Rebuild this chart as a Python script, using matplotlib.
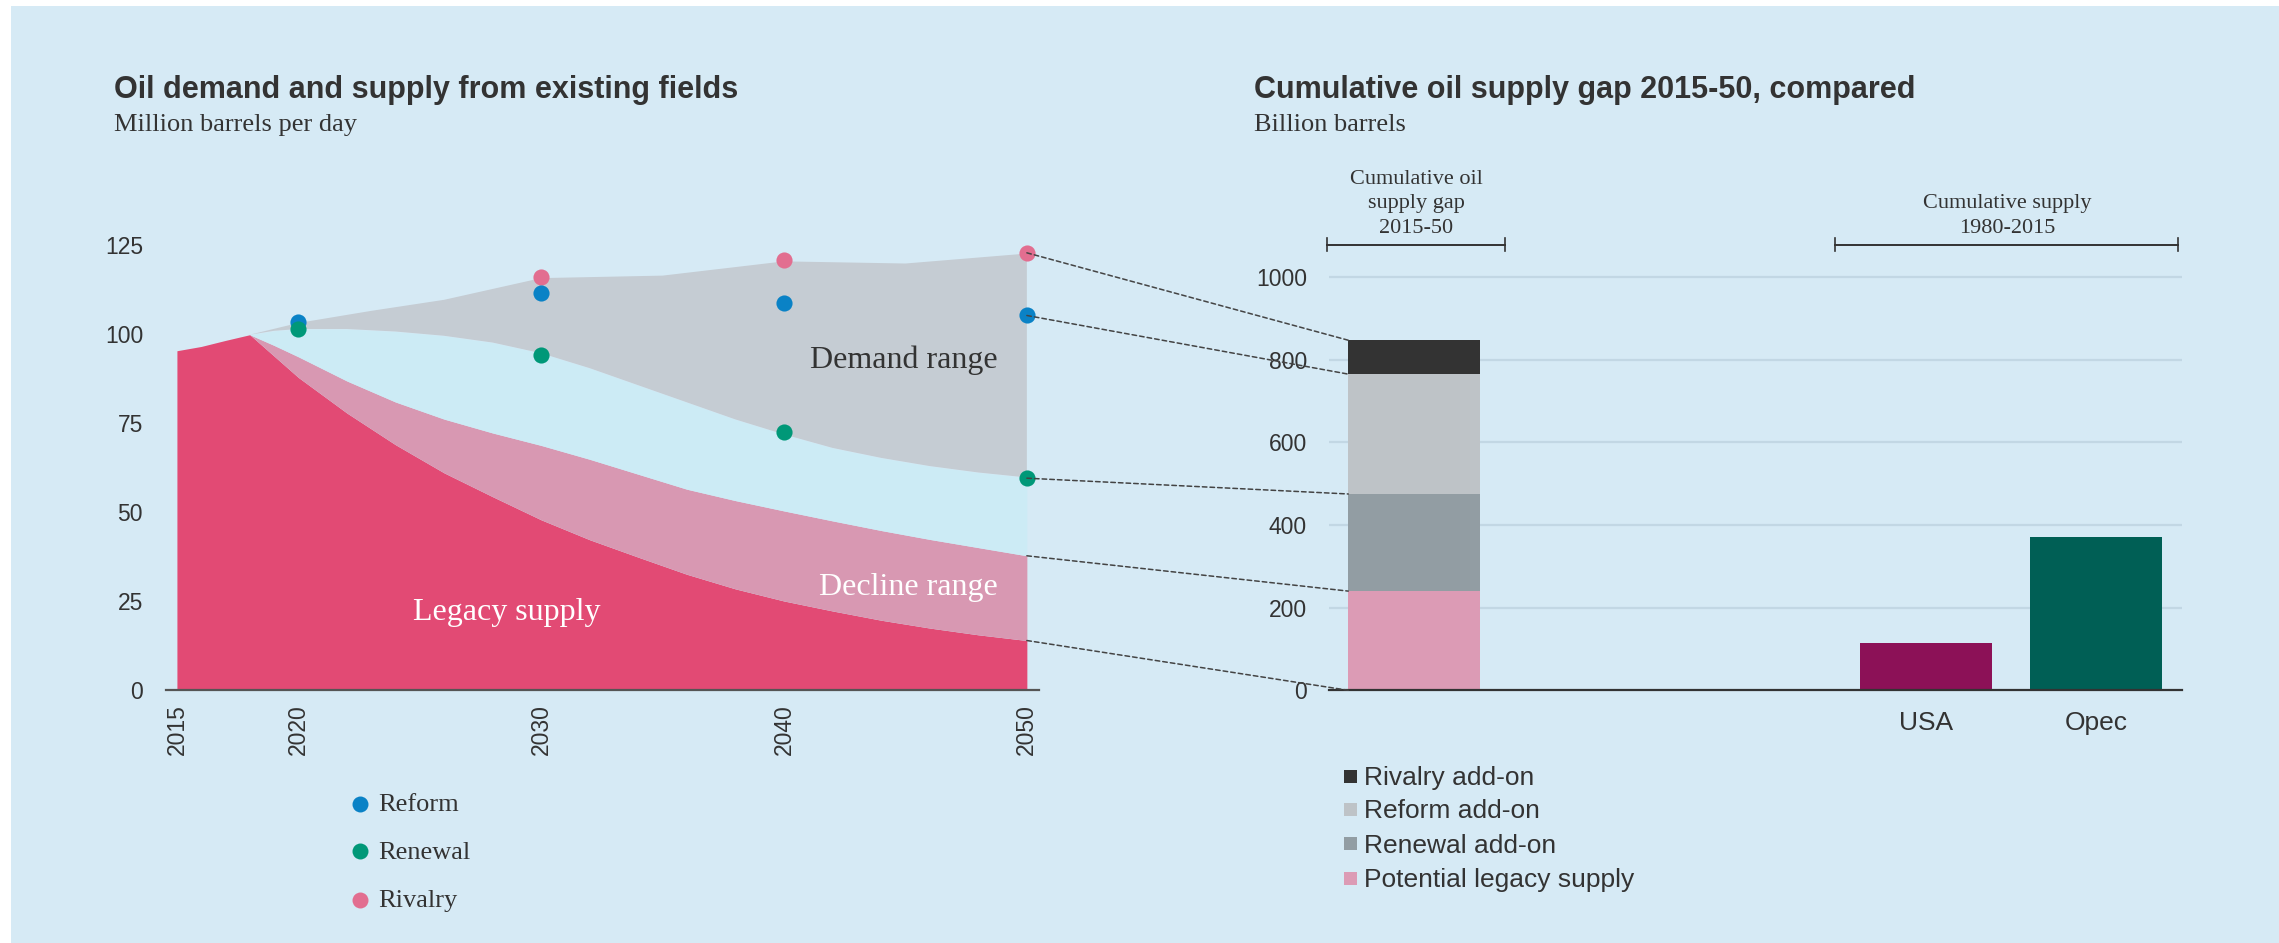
import numpy as np
import matplotlib
matplotlib.use("Agg")
import matplotlib.pyplot as plt
from matplotlib.patches import Rectangle, ConnectionPatch
from matplotlib.lines import Line2D

# ---------------- data ----------------
years = [2015, 2016, 2017, 2018, 2019, 2020, 2022, 2024, 2026, 2028, 2030,
         2032, 2034, 2036, 2038, 2040, 2042, 2044, 2046, 2048, 2050]
legacy_supply = [95.3, 96.5, 98.2, 99.8, 93.8, 87.8, 77.8, 68.9, 61.0, 54.3, 47.8,
                 42.2, 37.3, 32.5, 28.4, 25.0, 22.2, 19.6, 17.4, 15.5, 13.9]
# from 2018 onward
decline_top = [99.8, 96.8, 93.6, 86.8, 80.9, 76.1, 72.2, 68.7,
               64.8, 60.6, 56.4, 53.2, 50.3, 47.5, 44.8, 42.3, 40.0, 37.7]
demand_low = [99.8, 100.9, 101.4, 101.4, 100.7, 99.5, 97.6, 94.6,
              90.4, 85.6, 80.8, 76.0, 71.8, 68.0, 65.2, 62.9, 61.1, 59.7]
high_years = [2018, 2020, 2023, 2026, 2030, 2035, 2040, 2045, 2050]
demand_high = [99.8, 103.1, 106.5, 109.6, 115.7, 116.4, 120.4, 119.8, 122.6]

dot_years = [2020, 2030, 2040, 2050]
reform = [103.4, 111.5, 108.6, 105.2]
renewal = [101.5, 94.2, 72.5, 59.5]
rivalry_years = [2030, 2040, 2050]
rivalry = [116.0, 120.7, 122.8]

left_xticks = [2015, 2020, 2030, 2040, 2050]
left_yticks = [0, 25, 50, 75, 100, 125]

gap_labels = ["Potential legacy supply", "Renewal add-on", "Reform add-on", "Rivalry add-on"]
gap_values = [240, 235, 290, 82]
supply_cats = ["USA", "Opec"]
supply_values = [114, 371]
right_yticks = [0, 200, 400, 600, 800, 1000]

# ---------------- style ----------------
BG = "#D6EAF5"
TXT = "#333333"
C_RED = "#E24A74"
C_PINK = "#D898B2"
C_CYAN = "#CCEBF5"
C_GREY = "#C5CCD3"
C_REFORM = "#0A82C6"
C_RENEWAL = "#009878"
C_RIVALRY = "#E26E90"
BAR_COLORS = ["#DC9BB5", "#929DA3", "#BEC3C7", "#333333"]
C_USA = "#8C1157"
C_OPEC = "#005F55"
SANS = ["Liberation Sans", "DejaVu Sans"]
SERIF = ["Liberation Serif", "DejaVu Serif"]

W, H = 2279, 943
fig = plt.figure(figsize=(W / 100, H / 100), dpi=100, facecolor="white")
fig.add_artist(Rectangle((11 / W, 0), 1 - 11 / W, 1 - 6 / H, transform=fig.transFigure,
                         facecolor=BG, edgecolor="none", zorder=-10))

def fxy(px, py):
    return px / W, 1 - py / H

# ---------------- left chart ----------------
ax1 = fig.add_axes([166 / W, 1 - 690 / H, (1039 - 166) / W, 130 * 3.56 / H])
ax1.set_facecolor("none")
ax1.set_xlim(2014.55, 2050.5)
ax1.set_ylim(0, 130)

y18 = years[3:]
ax1.fill_between(years, 0, legacy_supply, color=C_RED, lw=0, zorder=2)
ax1.fill_between(y18, legacy_supply[3:], decline_top, color=C_PINK, lw=0, zorder=2)
ax1.fill_between(y18, decline_top, demand_low, color=C_CYAN, lw=0, zorder=2)
poly_x = np.concatenate([high_years, y18[::-1]])
poly_y = np.concatenate([demand_high, demand_low[::-1]])
ax1.fill(poly_x, poly_y, color=C_GREY, lw=0, zorder=2)

ms = 135
ax1.scatter(rivalry_years, rivalry, s=ms, color=C_RIVALRY, zorder=5, clip_on=False, lw=0)
ax1.scatter(dot_years, reform, s=ms, color=C_REFORM, zorder=5, clip_on=False, lw=0)
ax1.scatter(dot_years, renewal, s=ms, color=C_RENEWAL, zorder=6, clip_on=False, lw=0)

for s in ["top", "right", "left"]:
    ax1.spines[s].set_visible(False)
ax1.spines["bottom"].set_color("#555555")
ax1.spines["bottom"].set_linewidth(1.6)
ax1.spines["bottom"].set_zorder(7)
ax1.set_xticks(left_xticks)
ax1.set_xticklabels([str(v) for v in left_xticks], rotation=90, va="top", ha="center")
ax1.set_yticks(left_yticks)
ax1.set_yticklabels([str(v) for v in left_yticks])
ax1.tick_params(axis="x", length=0, pad=10, labelsize=16.5, labelcolor=TXT)
ax1.tick_params(axis="y", length=0, pad=16.5, labelsize=16.5, labelcolor=TXT)
for lab in ax1.get_xticklabels() + ax1.get_yticklabels():
    lab.set_family(SANS)

ax1.text(2048.8, 90.5, "Demand range", ha="right", va="baseline", fontsize=23,
         family=SERIF, color=TXT, zorder=8)
ax1.text(2048.8, 26.7, "Decline range", ha="right", va="baseline", fontsize=23,
         family=SERIF, color="white", zorder=8)
ax1.text(2028.6, 19.7, "Legacy supply", ha="center", va="baseline", fontsize=23,
         family=SERIF, color="white", zorder=8)

fig.text(*fxy(114, 98), "Oil demand and supply from existing fields", fontsize=22,
         family=SANS, weight="bold", color=TXT, ha="left", va="baseline")
fig.text(*fxy(114, 131), "Million barrels per day", fontsize=19,
         family=SERIF, color=TXT, ha="left", va="baseline")

# left legend
for label, col, py in [("Reform", C_REFORM, 803.7), ("Renewal", C_RENEWAL, 851.3),
                       ("Rivalry", C_RIVALRY, 899.7)]:
    fig.add_artist(Line2D([360 / W], [1 - py / H], marker="o", ms=11.5, color=col,
                          mec="none", transform=fig.transFigure))
    fig.text(*fxy(378, py + 7.5), label, fontsize=19, family=SERIF, color=TXT,
             ha="left", va="baseline")

# ---------------- right chart ----------------
ax2 = fig.add_axes([1329 / W, 1 - 690.3 / H, 852.5 / W, 1100 * 0.4133 / H])
ax2.set_facecolor("none")
ax2.set_xlim(-0.5, 4.5)
ax2.set_ylim(0, 1100)
bw = 0.774
bottom = 0
tops = []
for lab, val, col in zip(gap_labels, gap_values, BAR_COLORS):
    ax2.bar(0, val, bottom=bottom, width=bw, color=col, lw=0, zorder=3)
    bottom += val
    tops.append(bottom)
ax2.bar([3, 4], supply_values, width=bw, color=[C_USA, C_OPEC], lw=0, zorder=3)

ax2.set_yticks(right_yticks)
ax2.set_yticklabels([str(v) for v in right_yticks])
ax2.set_xticks([3, 4])
ax2.set_xticklabels(supply_cats)
ax2.tick_params(axis="y", length=0, pad=16, labelsize=16.5, labelcolor=TXT)
ax2.tick_params(axis="x", length=0, pad=15, labelsize=19, labelcolor=TXT)
for lab in ax2.get_xticklabels() + ax2.get_yticklabels():
    lab.set_family(SANS)
for y in right_yticks[1:]:
    ax2.axhline(y, color="#C2D7E4", lw=1.6, zorder=1)
for s in ["top", "right", "left"]:
    ax2.spines[s].set_visible(False)
ax2.spines["bottom"].set_color(TXT)
ax2.spines["bottom"].set_linewidth(1.6)
ax2.spines["bottom"].set_zorder(5)

# brackets
for x0, x1, txt, xc in [(-0.51, 0.53, "Cumulative oil\nsupply gap\n2015-50", 0.01),
                        (2.47, 4.48, "Cumulative supply\n1980-2015", 3.48)]:
    ax2.plot([x0, x1], [1077, 1077], color=TXT, lw=1.4, clip_on=False)
    ax2.plot([x0, x0], [1062, 1094], color=TXT, lw=1.2, clip_on=False)
    ax2.plot([x1, x1], [1062, 1094], color=TXT, lw=1.2, clip_on=False)
    ax2.text(xc, 1095, txt, ha="center", va="bottom", fontsize=16, family=SERIF,
             color=TXT, linespacing=1.4, multialignment="center")

fig.text(*fxy(1254, 98), "Cumulative oil supply gap 2015-50, compared", fontsize=22,
         family=SANS, weight="bold", color=TXT, ha="left", va="baseline")
fig.text(*fxy(1254, 131), "Billion barrels", fontsize=19,
         family=SERIF, color=TXT, ha="left", va="baseline")

# right legend
for lab, col, py in zip(gap_labels[::-1], BAR_COLORS[::-1], [776, 809.3, 843.7, 878]):
    fig.add_artist(Rectangle((1343.6 / W, 1 - (py + 6.5) / H), 13 / W, 13 / H,
                             transform=fig.transFigure, facecolor=col, edgecolor="none"))
    fig.text(*fxy(1364, py + 9), lab, fontsize=19, family=SANS, color=TXT,
             ha="left", va="baseline")

# dashed connectors
left_ends = [rivalry[-1], reform[-1], renewal[-1], decline_top[-1], legacy_supply[-1]]
right_ends = [tops[3], tops[2], tops[1], tops[0], 0]
for ya, yb in zip(left_ends, right_ends):
    con = ConnectionPatch(xyA=(2050, ya), coordsA=ax1.transData,
                          xyB=(-bw / 2, yb), coordsB=ax2.transData,
                          color="#444444", lw=1.1, linestyle=(0, (3, 2)), zorder=9)
    fig.add_artist(con)

fig.savefig("out.png", dpi=100, facecolor="white")
